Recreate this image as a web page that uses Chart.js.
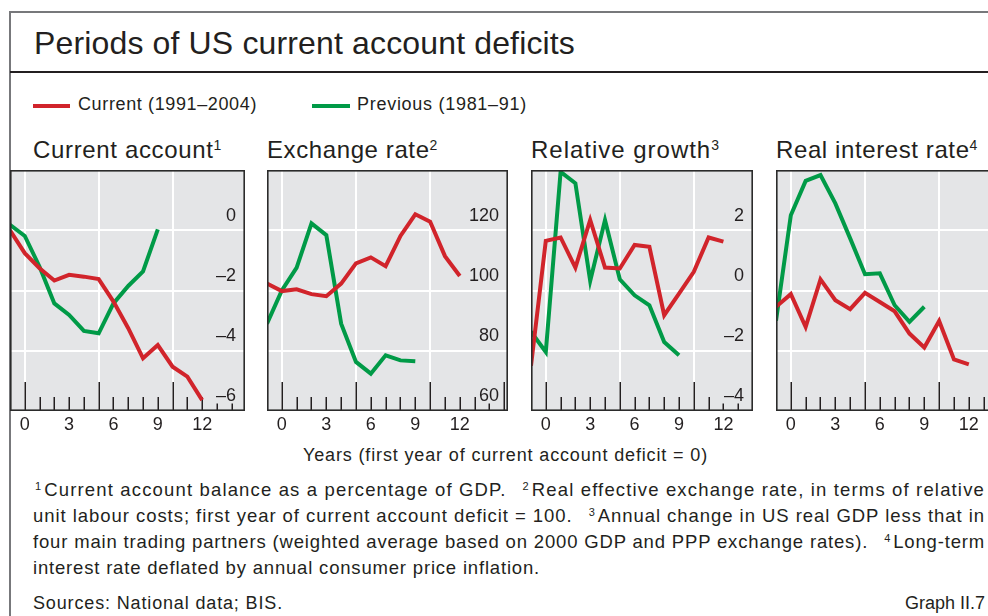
<!DOCTYPE html>
<html>
<head>
<meta charset="utf-8">
<script src="https://cdn.jsdelivr.net/npm/chart.js@4.4.1/dist/chart.umd.min.js"></script>
<style>
html,body{margin:0;padding:0;background:#fff;}
#wrap{position:relative;width:988px;height:616px;overflow:hidden;font-family:"Liberation Sans",Arial,sans-serif;color:#231f20;background:#fff;}
.abs{position:absolute;white-space:nowrap;line-height:1;}
.sup{font-size:14px;position:relative;top:-8px;}
.fsup{font-size:11px;position:relative;top:-6px;margin-right:2px;}
.gap{display:inline-block;width:16px;}
.panel{position:absolute;top:170px;}
</style>
</head>
<body>
<div id="wrap">
  <div class="abs" style="left:10px;top:11px;width:978px;height:2px;background:#77787b"></div>
  <div class="abs" style="left:9px;top:11px;width:2px;height:605px;background:#77787b"></div>
  <div class="abs" id="title" data-w="541" style="left:34px;top:27px;font-size:32px">Periods of US current account deficits</div>
  <div class="abs" style="left:10px;top:71px;width:978px;height:1.5px;background:#231f20"></div>

  <div class="abs" style="left:33px;top:104px;width:37px;height:4px;background:#d1242b"></div>
  <div class="abs fitl" data-w="179" style="left:78px;top:94.5px;font-size:18px">Current (1991–2004)</div>
  <div class="abs" style="left:312px;top:104px;width:38px;height:4px;background:#009a47"></div>
  <div class="abs fitl" data-w="170" style="left:357px;top:94.5px;font-size:18px">Previous (1981–91)</div>

  <div class="abs fitl" data-w="189" style="left:33px;top:138px;font-size:24px">Current account<span class="sup">1</span></div>
  <div class="abs fitl" data-w="171" style="left:267px;top:138px;font-size:24px">Exchange rate<span class="sup">2</span></div>
  <div class="abs fitl" data-w="189" style="left:531px;top:138px;font-size:24px">Relative growth<span class="sup">3</span></div>
  <div class="abs fitl" data-w="202" style="left:776px;top:138px;font-size:24px">Real interest rate<span class="sup">4</span></div>

  <div class="panel" style="left:10px"><canvas id="c1" width="235" height="271"></canvas></div>
  <div class="panel" style="left:267px"><canvas id="c2" width="241" height="271"></canvas></div>
  <div class="panel" style="left:531px"><canvas id="c3" width="222" height="271"></canvas></div>
  <div class="panel" style="left:776px"><canvas id="c4" width="241" height="271"></canvas></div>

  <div class="abs fitl" data-w="405" style="left:303px;top:446px;font-size:18px">Years (first year of current account deficit = 0)</div>

  <div class="abs fitl" data-w="950" style="left:35px;top:481px;font-size:18.5px"><span class="fsup">1</span>Current account balance as a percentage of GDP.<span class="gap"></span><span class="fsup">2</span>Real effective exchange rate, in terms of relative</div>
  <div class="abs fitl" data-w="952" style="left:33px;top:507px;font-size:18.5px">unit labour costs; first year of current account deficit = 100.<span class="gap"></span><span class="fsup">3</span>Annual change in US real GDP less that in</div>
  <div class="abs fitl" data-w="952" style="left:33px;top:533px;font-size:18.5px">four main trading partners (weighted average based on 2000 GDP and PPP exchange rates).<span class="gap"></span><span class="fsup">4</span>Long-term</div>
  <div class="abs fitl" data-w="507" style="left:33px;top:559px;font-size:18.5px">interest rate deflated by annual consumer price inflation.</div>

  <div class="abs fitl" data-w="250" style="left:33px;top:594px;font-size:18px">Sources: National data; BIS.</div>
  <div class="abs" style="right:3px;top:594px;font-size:18px">Graph II.7</div>
</div>

<script>
// ---------- data ----------
const xTicks = [0, 3, 6, 9, 12];
const xGrid = [0, 5, 10];
const yearsCurrent = [-1, 0, 1, 2, 3, 4, 5, 6, 7, 8, 9, 10, 11, 12];
const yearsPrevious = [-1, 0, 1, 2, 3, 4, 5, 6, 7, 8, 9];

const caCurrent = [0.0, -0.76, -1.26, -1.67, -1.48, -1.54, -1.62, -2.37, -3.25, -4.25, -3.81, -4.53, -4.86, -5.64];
const caPrevious = [0.18, -0.19, -1.21, -2.43, -2.81, -3.34, -3.42, -2.43, -1.85, -1.37, 0.03];
const caTicks = [0, -2, -4, -6];

const fxCurrent = [102.3, 99.8, 100.4, 98.8, 98.1, 102.3, 109.0, 111.0, 108.1, 118.1, 125.3, 122.8, 111.4, 104.8];
const fxPrevious = [89.0, 100.0, 107.6, 122.3, 118.4, 89.0, 76.3, 72.4, 78.5, 76.8, 76.5];
const fxTicks = [120, 100, 80, 60];

const grCurrent = [-2.5, 1.65, 1.76, 0.76, 2.34, 0.76, 0.73, 1.51, 1.45, -0.82, -0.10, 0.62, 1.76, 1.62];
const grPrevious = [-1.37, -2.04, 3.94, 3.56, 0.32, 2.34, 0.37, -0.16, -0.49, -1.71, -2.15];
const grTicks = [2, 0, -2, -4];

const irCurrent = [3.46, 3.88, 2.79, 4.37, 3.68, 3.38, 3.92, 3.62, 3.31, 2.57, 2.11, 2.99, 1.71, 1.55];
const irPrevious = [3.0, 6.50, 7.64, 7.83, 6.89, 5.73, 4.54, 4.57, 3.51, 2.96, 3.46];
const irTicks = [6, 4, 2, 0];

const seriesNames = ['Current (1991–2004)', 'Previous (1981–91)'];

// ---------- styling ----------
const RED = '#d1242b', GREEN = '#009a47', BG = '#e4e5e7', INK = '#231f20';
Chart.defaults.font.family = '"Liberation Sans", Arial, sans-serif';

function fmt(v) { return v < 0 ? '–' + Math.abs(v) : String(v); }

const deco = {
  id: 'deco',
  beforeDatasetsDraw(chart, args, opts) {
    const {ctx, chartArea: a, scales: {x, y}} = chart;
    ctx.save();
    ctx.fillStyle = BG;
    ctx.fillRect(a.left, a.top, a.right - a.left, a.bottom - a.top);
    ctx.strokeStyle = '#ffffff';
    ctx.lineWidth = 2;
    xGrid.forEach(v => {
      const px = Math.round(x.getPixelForValue(v));
      ctx.beginPath(); ctx.moveTo(px, a.top); ctx.lineTo(px, a.bottom); ctx.stroke();
    });
    opts.yTicks.forEach(v => {
      if (v <= y.min || v >= y.max) return;
      const py = Math.round(y.getPixelForValue(v));
      ctx.beginPath(); ctx.moveTo(a.left, py); ctx.lineTo(a.right, py); ctx.stroke();
    });
    // tick marks
    ctx.strokeStyle = INK;
    ctx.lineWidth = 1.5;
    for (let i = 0; i <= Math.floor(x.max); i++) {
      const px = Math.round(x.getPixelForValue(i)) + 0.25;
      const len = (i % 5 === 0) ? 29 : 14;
      ctx.beginPath(); ctx.moveTo(px, a.bottom); ctx.lineTo(px, a.bottom - len); ctx.stroke();
    }
    // y labels with masking box
    ctx.font = '18px "Liberation Sans", Arial, sans-serif';
    ctx.textAlign = 'right';
    ctx.textBaseline = 'middle';
    opts.yTicks.forEach(v => {
      const cy = y.getPixelForValue(v) - 15.5;
      const t = fmt(v);
      const w = ctx.measureText(t).width;
      const rx = a.right - 9;
      ctx.fillStyle = BG;
      ctx.fillRect(rx - w - 2, cy - 9, w + 4, 17);
      ctx.fillStyle = INK;
      ctx.fillText(t, rx, cy + 1);
    });
    ctx.restore();
  },
  afterDatasetsDraw(chart) {
    const {ctx, chartArea: a} = chart;
    ctx.save();
    ctx.strokeStyle = '#2b2b2b';
    ctx.lineWidth = 1.6;
    ctx.strokeRect(a.left + 0.8, a.top + 0.8, a.right - a.left - 1.6, a.bottom - a.top - 1.6);
    ctx.restore();
  }
};

function makePanel(id, cur, prev, yTicks, yMin, yMax, xMax) {
  const toPts = (xs, ys) => xs.map((xv, i) => ({x: xv, y: ys[i]}));
  new Chart(document.getElementById(id), {
    type: 'line',
    data: {
      datasets: [
        {label: seriesNames[0], data: toPts(yearsCurrent, cur), borderColor: RED, borderWidth: 4, pointRadius: 0, tension: 0, clip: 0},
        {label: seriesNames[1], data: toPts(yearsPrevious, prev), borderColor: GREEN, borderWidth: 4, pointRadius: 0, tension: 0, clip: 0}
      ]
    },
    options: {
      responsive: false,
      animation: false,
      layout: {padding: 0},
      plugins: {legend: {display: false}, tooltip: {enabled: false}, deco: {yTicks}},
      scales: {
        x: {
          type: 'linear', min: -1, max: xMax, position: 'bottom',
          grid: {display: false, drawTicks: false},
          border: {display: false},
          ticks: {color: INK, font: {size: 18}, padding: 3, autoSkip: false, maxRotation: 0, callback: v => fmt(v)},
          afterBuildTicks: s => { s.ticks = xTicks.map(v => ({value: v})); },
          afterFit: s => { s.height = 30; }
        },
        y: {type: 'linear', display: false, min: yMin, max: yMax}
      }
    },
    plugins: [deco]
  });
}

makePanel('c1', caCurrent, caPrevious, caTicks, -6, 2, 14.9);
makePanel('c2', fxCurrent, fxPrevious, fxTicks, 60, 140, 15.25);
makePanel('c3', grCurrent, grPrevious, grTicks, -4, 4, 14.0);
makePanel('c4', irCurrent, irPrevious, irTicks, 0, 8, 15.25);

// ---------- text fitting ----------
function fitLetter(el) {
  const target = parseFloat(el.dataset.w);
  el.style.letterSpacing = '0px';
  const w = el.getBoundingClientRect().width;
  const n = el.textContent.length;
  el.style.letterSpacing = ((target - w) / n) + 'px';
}
fitLetter(document.getElementById('title'));
document.querySelectorAll('.fitl').forEach(fitLetter);
</script>
</body>
</html>
